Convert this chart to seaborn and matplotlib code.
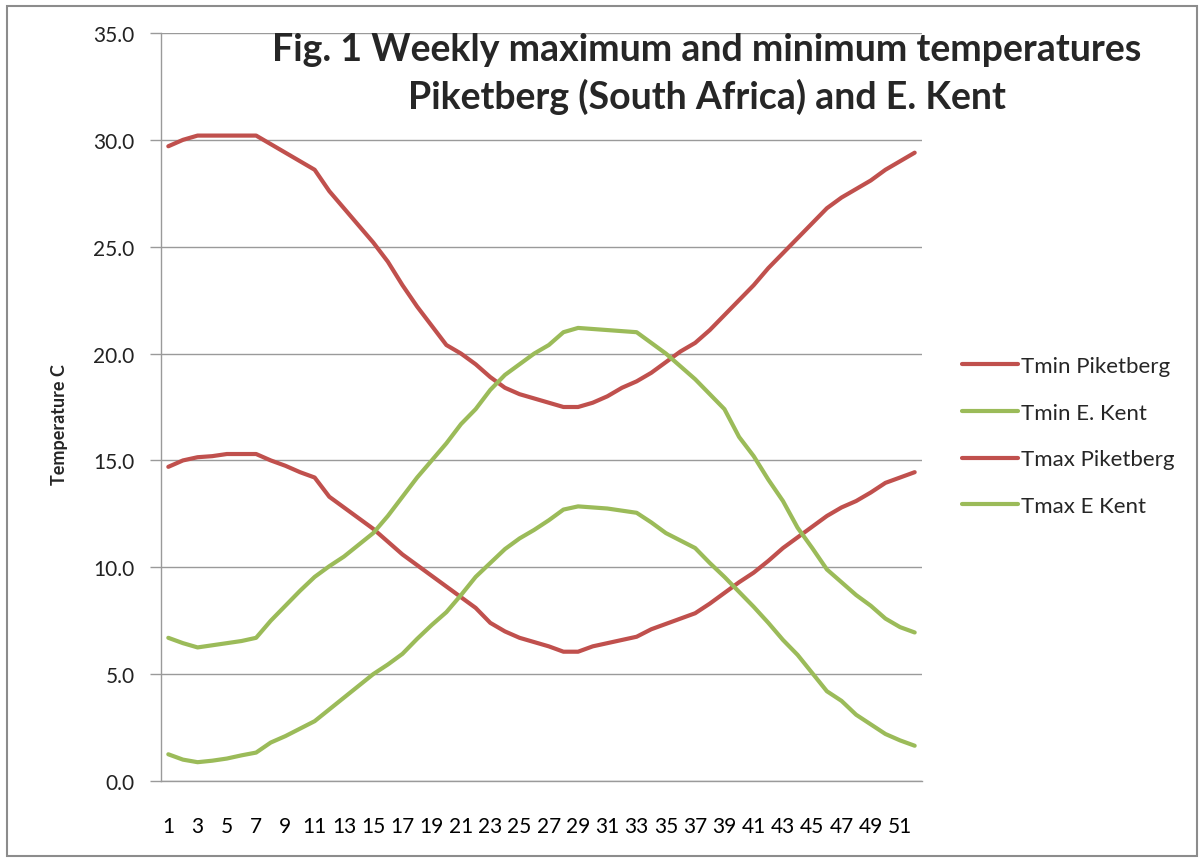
import numpy as np
import pandas as pd
import matplotlib
matplotlib.use('Agg')
import matplotlib.pyplot as plt
from matplotlib.patches import Rectangle
from matplotlib.ticker import FormatStrFormatter
import seaborn as sns

# weekly values
weeks = list(range(1, 53))
tmin_piketberg = [14.7, 15.0, 15.15, 15.2, 15.3, 15.3, 15.3, 15.0, 14.75, 14.45,
                  14.2, 13.3, 12.8, 12.3, 11.8, 11.2, 10.6, 10.1, 9.6, 9.1,
                  8.6, 8.1, 7.4, 7.0, 6.7, 6.5, 6.3, 6.05, 6.05, 6.3,
                  6.45, 6.6, 6.75, 7.1, 7.35, 7.6, 7.85, 8.3, 8.8, 9.3,
                  9.75, 10.3, 10.9, 11.4, 11.9, 12.4, 12.8, 13.1, 13.5, 13.95,
                  14.2, 14.45]
tmin_kent = [1.25, 1.0, 0.88, 0.95, 1.05, 1.2, 1.33, 1.8, 2.1, 2.45,
             2.8, 3.35, 3.9, 4.45, 5.0, 5.45, 5.95, 6.65, 7.3, 7.9,
             8.7, 9.55, 10.2, 10.85, 11.35, 11.75, 12.2, 12.7, 12.85, 12.8,
             12.75, 12.65, 12.55, 12.1, 11.6, 11.25, 10.9, 10.2, 9.55, 8.85,
             8.15, 7.4, 6.6, 5.9, 5.05, 4.2, 3.75, 3.1, 2.65, 2.2,
             1.9, 1.65]
tmax_piketberg = [29.7, 30.0, 30.2, 30.2, 30.2, 30.2, 30.2, 29.8, 29.4, 29.0,
                  28.6, 27.6, 26.8, 26.0, 25.2, 24.3, 23.2, 22.2, 21.3, 20.4,
                  20.0, 19.5, 18.9, 18.4, 18.1, 17.9, 17.7, 17.5, 17.5, 17.7,
                  18.0, 18.4, 18.7, 19.1, 19.6, 20.1, 20.5, 21.1, 21.8, 22.5,
                  23.2, 24.0, 24.7, 25.4, 26.1, 26.8, 27.3, 27.7, 28.1, 28.6,
                  29.0, 29.4]
tmax_kent = [6.7, 6.45, 6.25, 6.35, 6.45, 6.55, 6.7, 7.5, 8.2, 8.9,
             9.55, 10.05, 10.5, 11.05, 11.6, 12.4, 13.3, 14.2, 15.0, 15.8,
             16.7, 17.4, 18.3, 19.0, 19.5, 20.0, 20.4, 21.0, 21.2, 21.15,
             21.1, 21.05, 21.0, 20.5, 20.0, 19.4, 18.8, 18.1, 17.4, 16.1,
             15.2, 14.1, 13.1, 11.85, 10.9, 9.9, 9.3, 8.7, 8.2, 7.6,
             7.2, 6.95]

series_names = ['Tmin Piketberg', 'Tmin E. Kent', 'Tmax Piketberg', 'Tmax E Kent']
series_values = [tmin_piketberg, tmin_kent, tmax_piketberg, tmax_kent]
red, green = '#C0504D', '#9BBB59'
palette = {'Tmin Piketberg': red, 'Tmin E. Kent': green,
           'Tmax Piketberg': red, 'Tmax E Kent': green}

df = pd.DataFrame({
    'week': weeks * len(series_names),
    'temp': np.concatenate(series_values),
    'series': np.repeat(series_names, len(weeks)),
})

sns.set_style('white')
plt.rcParams['font.family'] = ['Lato', 'DejaVu Sans']

fig = plt.figure(figsize=(12.03, 8.62), dpi=100)
ax = fig.add_axes([161 / 1203, 1 - 782 / 862, 761 / 1203, 748 / 862])

sns.lineplot(data=df, x='week', y='temp', hue='series', hue_order=series_names,
             palette=palette, linewidth=3.0, solid_capstyle='round', ax=ax)

grid_col = '#9a9a9a'
ax.set_xlim(0.5, 52.5)
ax.set_ylim(0, 35)
ax.set_yticks(np.arange(0, 36, 5))
ax.yaxis.set_major_formatter(FormatStrFormatter('%.1f'))
ax.yaxis.grid(True, color=grid_col, linewidth=1)
ax.set_axisbelow(True)

ax.set_xticks(weeks[::2])
ax.set_xticklabels([str(w) for w in weeks[::2]])
ax.set_xticks(np.arange(0.5, 53, 1), minor=True)
ax.tick_params(axis='x', which='major', length=0, pad=25, labelsize=15, colors='black')
ax.tick_params(axis='x', which='minor', length=7, color=grid_col, width=1, direction='out')
ax.tick_params(axis='y', length=8, color=grid_col, width=1, pad=11, labelsize=15,
               labelcolor='#222222', direction='out', left=True)

for side in ['top', 'right']:
    ax.spines[side].set_visible(False)
for side in ['left', 'bottom']:
    ax.spines[side].set_color(grid_col)
    ax.spines[side].set_linewidth(1)

ax.set_xlabel('')
ax.set_ylabel('')
fig.text(59 / 1203, 1 - 425 / 862, 'Temperature C', rotation=90, ha='center',
         va='center', fontsize=13, fontweight='bold')

fig.text(707 / 1203, 1 - 33 / 862,
         'Fig. 1 Weekly maximum and minimum temperatures\nPiketberg (South Africa) and E. Kent',
         ha='center', va='top', fontsize=27, fontweight='bold', linespacing=1.4)

sns.move_legend(ax, 'upper left', bbox_to_anchor=(962 / 1203, 1 - 357 / 862),
                bbox_transform=fig.transFigure, frameon=False, title=None,
                fontsize=16, handlelength=2.5, handletextpad=0.15,
                labelspacing=1.2, borderpad=0, borderaxespad=0)

fig.add_artist(Rectangle((7 / 1203, 5 / 862), 1190 / 1203, 850 / 862,
                         transform=fig.transFigure, fill=False,
                         edgecolor='#8c8c8c', linewidth=1.5))

fig.savefig('out.png', dpi=100)
